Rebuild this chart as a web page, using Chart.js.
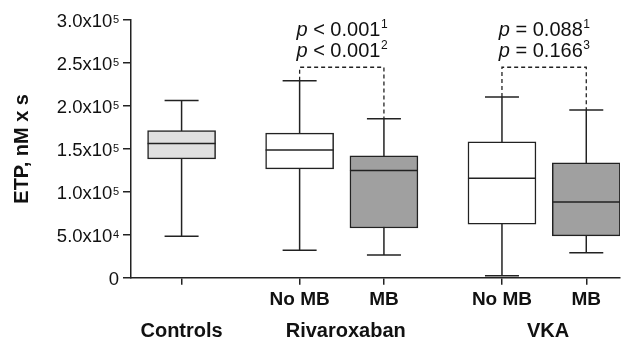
<!DOCTYPE html>
<html><head><meta charset="utf-8">
<script src="https://cdn.jsdelivr.net/npm/chart.js@4.4.0/dist/chart.umd.min.js"></script>
<style>html,body{margin:0;padding:0;background:#fff}#wrap{width:622px;height:343px}</style>
</head><body><div id="wrap"><canvas id="c" width="622" height="343"></canvas></div>
<script>
const positions=[0,1.4,2.4,3.8,4.8];
const tickLabels=["","No MB","MB","No MB","MB"];
const groupNames=["Controls","Rivaroxaban","VKA"];
const groupMembers=[[0],[1,2],[3,4]];
const mins=[48250,31900,26500,2300,29100];
const q1s=[138300,126700,57900,62200,48600];
const medians=[156200,148800,124700,115800,88200];
const q3s=[171300,168300,141800,158200,133700];
const maxs=[206300,229300,185000,210300,195100];
const boxFills=["#e0e0e0","#ffffff","#a0a0a0","#ffffff","#a0a0a0"];
const yTicks=[0,50000,100000,150000,200000,250000,300000];
const yTickBase=["0","5.0x10","1.0x10","1.5x10","2.0x10","2.5x10","3.0x10"];
const yTickExp=["","4","5","5","5","5","5"];
const yTitle="ETP, nM x s";
const comparisons=[[1,2],[3,4]];
const bracketLevel=245000;
const pLabels=[[["< 0.001","1"],["< 0.001","2"]],[["= 0.088","1"],["= 0.166","3"]]];

const ink='#222';
const FONT='"Liberation Sans", Arial, sans-serif';
const boxData=positions.map((x,i)=>({x,y:[q1s[i],q3s[i]]}));
const medData=positions.map((x,i)=>({x,y:medians[i]}));
const capData=[];positions.forEach((x,i)=>{capData.push({x,y:mins[i]},{x,y:maxs[i]});});
const whiskData=[];positions.forEach((x,i)=>{whiskData.push({x,y:mins[i]},{x,y:maxs[i]},{x,y:null});});
const bracketData=[];comparisons.forEach(([a,b])=>{bracketData.push({x:positions[a],y:maxs[a]},{x:positions[a],y:bracketLevel},{x:positions[b],y:bracketLevel},{x:positions[b],y:maxs[b]},{x:positions[b],y:null});});

const textPlugin={id:'texts',afterDraw(chart){
  const ctx=chart.ctx,xs=chart.scales.x,ys=chart.scales.y;
  ctx.save();
  ctx.fillStyle='#111';
  ctx.textBaseline='alphabetic';
  ctx.textAlign='left';
  const right=ys.right-12;
  yTicks.forEach((v,i)=>{
    const py=ys.getPixelForValue(v);
    ctx.font='11px '+FONT;const we=ctx.measureText(yTickExp[i]).width;
    ctx.font='18.5px '+FONT;const wb=ctx.measureText(yTickBase[i]).width;
    const x0=right-we-wb-(we?0.5:0);
    ctx.fillText(yTickBase[i],x0,py+7.3);
    if(yTickExp[i]){ctx.font='11px '+FONT;ctx.fillText(yTickExp[i],x0+wb+0.5,py+3);}
  });
  ctx.textAlign='center';
  ctx.font='bold 20px '+FONT;
  groupNames.forEach((g,i)=>{
    const m=groupMembers[i];
    const cx=m.reduce((s,k)=>s+xs.getPixelForValue(positions[k]),0)/m.length;
    ctx.fillText(g,cx+(m.length>1?4:0),chart.chartArea.bottom+59);
  });
  ctx.textAlign='left';
  const yb=ys.getPixelForValue(bracketLevel);
  comparisons.forEach(([a,b],ci)=>{
    const cx=(xs.getPixelForValue(positions[a])+xs.getPixelForValue(positions[b]))/2;
    pLabels[ci].forEach((ln,li)=>{
      const base=yb-(li===0?31:10.4);
      ctx.font='italic 20px '+FONT;const wp=ctx.measureText('p').width;
      ctx.font='20px '+FONT;const wr=ctx.measureText(' '+ln[0]).width;
      ctx.font='12px '+FONT;const ws=ctx.measureText(ln[1]).width;
      let x=cx-(wp+wr+ws)/2;
      ctx.font='italic 20px '+FONT;ctx.fillText('p',x,base);x+=wp;
      ctx.font='20px '+FONT;ctx.fillText(' '+ln[0],x,base);x+=wr;
      ctx.font='12px '+FONT;ctx.fillText(ln[1],x+0.5,base-8);
    });
  });
  ctx.restore();
}};

new Chart(document.getElementById('c'),{
  type:'bar',
  data:{datasets:[
    {type:'line',data:medData,showLine:false,pointStyle:'line',pointRadius:34,pointHoverRadius:34,pointBorderWidth:1.5,pointBorderColor:ink},
    {type:'line',data:capData,showLine:false,pointStyle:'line',pointRadius:17,pointHoverRadius:17,pointBorderWidth:1.5,pointBorderColor:ink},
    {type:'bar',data:boxData,grouped:false,barThickness:68,backgroundColor:boxFills,borderColor:ink,borderWidth:1.5,borderSkipped:false},
    {type:'line',data:whiskData,borderColor:ink,borderWidth:1.5,pointRadius:0,spanGaps:false,fill:false},
    {type:'line',data:bracketData,borderColor:ink,borderWidth:1.3,borderDash:[4,3],pointRadius:0,spanGaps:false,fill:false}
  ]},
  options:{
    responsive:false,animation:false,
    layout:{autoPadding:false,padding:{top:20,right:2,left:0,bottom:0}},
    plugins:{legend:{display:false},tooltip:{enabled:false}},
    scales:{
      x:{type:'linear',min:-0.6,max:5.2,offset:false,
        afterBuildTicks:s=>{s.ticks=positions.map(v=>({value:v}));},
        afterFit:s=>{s.height=65.3;s.paddingLeft=0;s.paddingRight=0;},
        ticks:{callback:(v,i)=>tickLabels[i],autoSkip:false,maxRotation:0,padding:4,color:'#111',font:{family:FONT,size:19,weight:'bold'}},
        grid:{offset:false,drawOnChartArea:false,tickLength:7,color:ink,lineWidth:1.5},
        border:{color:ink,width:1.5}},
      y:{type:'linear',min:0,max:300000,
        afterBuildTicks:s=>{s.ticks=yTicks.map(v=>({value:v}));},
        afterFit:s=>{s.width=131;s.paddingTop=0;s.paddingBottom=0;},
        ticks:{display:false},
        grid:{offset:false,drawOnChartArea:false,tickLength:8,color:ink,lineWidth:1.5},
        border:{color:ink,width:1.5},
        title:{display:true,text:yTitle,color:'#111',font:{family:FONT,size:20,weight:'bold'},padding:{top:10,bottom:0}}}
    }
  },
  plugins:[textPlugin]
});
</script></body></html>
